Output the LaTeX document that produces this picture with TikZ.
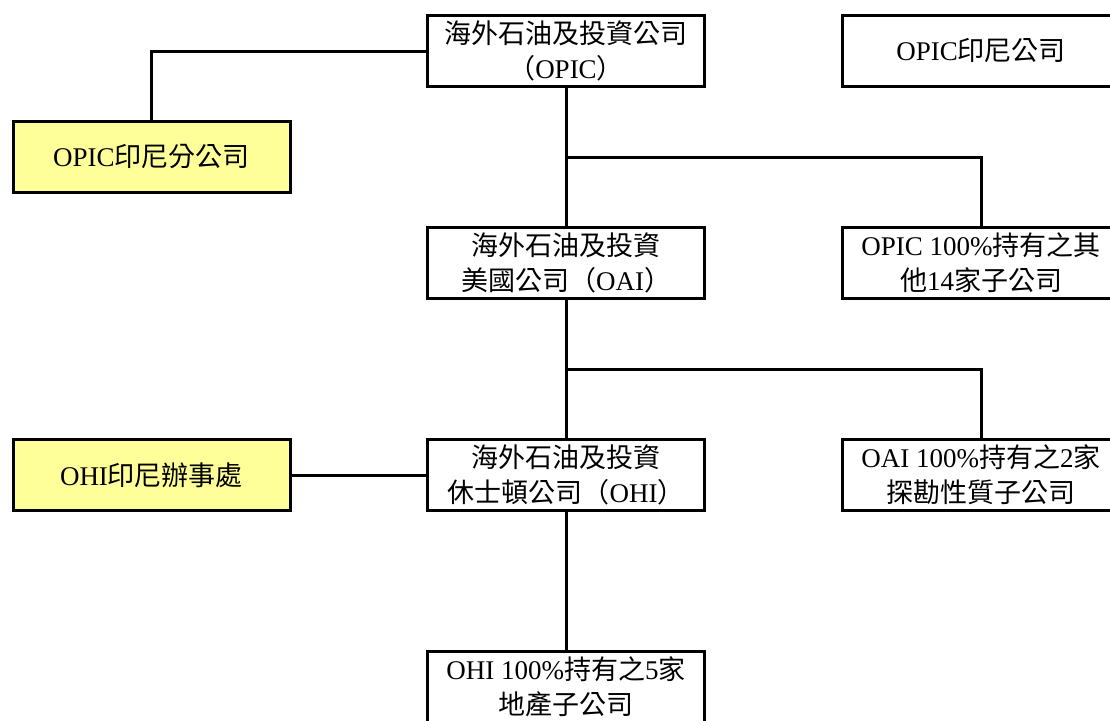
\documentclass[tikz,border=0pt]{standalone}
\usepackage{fontspec}
\setmainfont{Liberation Serif}
\newfontfamily\cjk{Noto Sans CJK TC}
\newcommand{\zh}[1]{{\cjk #1}}
\definecolor{boxyellow}{RGB}{255,255,153}
\usepackage{tikz}

\begin{document}
\begin{tikzpicture}[x=1pt,y=-1pt]
                \tikzstyle{unit}=[rectangle, draw=black, fill=white, line width=3pt, minimum width=277pt, minimum height=71pt, inner sep=0pt, align=center, font=\fontsize{27}{35}\selectfont]
                \tikzstyle{office}=[unit, fill=boxyellow]
                \tikzstyle{edge} = [draw, line width=3pt, -]

                \useasboundingbox (0,0) rectangle (1110,720);
                \clip (0,0) rectangle (1110,720);

                \node[unit] (opic) at (566,51) {\zh{海外石油及投資公司}\\\zh{（}OPIC\zh{）}};
                \node[unit] (opicco) at (981,51) {OPIC\zh{印尼公司}};
                \node[office] (opicbr) at (151.5,157) {OPIC\zh{印尼分公司}};
                \node[unit] (oai) at (566,263) {\zh{海外石油及投資}\\\zh{美國公司（}OAI\zh{）}};
                \node[unit] (opicsub) at (981,263) {OPIC 100\%\zh{持有之其}\\\zh{他}14\zh{家子公司}};
                \node[office] (ohioff) at (151.5,475) {OHI\zh{印尼辦事處}};
                \node[unit] (ohi) at (566,475) {\zh{海外石油及投資}\\\zh{休士頓公司（}OHI\zh{）}};
                \node[unit] (oaisub) at (981,475) {OAI 100\%\zh{持有之}2\zh{家}\\\zh{探勘性質子公司}};
                \node[unit] (ohisub) at (566,687) {OHI 100\%\zh{持有之}5\zh{家}\\\zh{地產子公司}};

                \coordinate (fork1) at (566,157);
                \coordinate (fork2) at (566,369);

                \path[edge] (opic.west) -| (opicbr.north);
                \path[edge] (fork1) -| (opicsub.north);
                \path[edge] (fork2) -| (oaisub.north);
                \foreach \source/ \dest in {opic.south/oai.north, oai.south/ohi.north, ohi.south/ohisub.north, ohi.west/ohioff.east}
                \path[edge] (\source) -- (\dest);
            \end{tikzpicture}
\end{document}
